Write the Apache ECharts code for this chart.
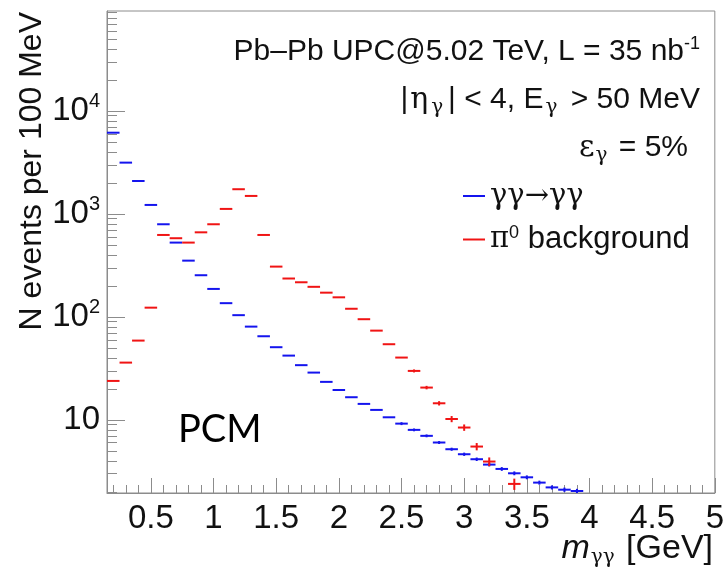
<!DOCTYPE html>
<html><head><meta charset="utf-8">
<script src="https://cdn.jsdelivr.net/npm/echarts@6/dist/echarts.min.js"></script>
<style>html,body{margin:0;padding:0;background:#fff}#c{width:727px;height:568px}</style>
</head><body><div id="c"></div>
<script>
// ---- data ----
const massBins = [0.2,0.3,0.4,0.5,0.6,0.7,0.8,0.9,1.0,1.1,1.2,1.3,1.4,1.5,1.6,1.7,1.8,1.9,2.0,2.1,2.2,2.3,2.4,2.5,2.6,2.7,2.8,2.9,3.0,3.1,3.2,3.3,3.4,3.5,3.6,3.7,3.8,3.9];
const signalCounts = [6150,3150,2090,1223,794,527,352,254,187,136,104,80.5,64.9,50.8,42.1,34.0,28.8,23.4,19.5,16.6,14.3,12.5,10.6,9.2,8.0,7.0,6.03,5.19,4.64,4.15,3.68,3.34,3.03,2.77,2.46,2.21,2.1,2.04];
const signalErrors = [0,0,0,0,0,0,0,0,0,0,0,0,0,0,0,0,0,0,0,0,0,0,0,0.3,0.25,0.22,0.2,0.18,0.17,0.16,0.15,0.14,0.13,0.12,0.11,0.1,0.1,0.1];
const backgroundCounts = [23.9,36,58.9,123,625,581,527,663,794,1119,1738,1496,625,308,236,217,196,172,155,120,95,73.6,54.3,40.3,29.9,20.6,14.5,10.2,8.43,5.51,3.94,null,2.39,null,null,null,null,null];
const backgroundErrors = [0,0,0,0,0,0,0,0,0,0,0,0,0,0,0,0,0,0,0,0,0,0,0,0,1.0,0.8,0.7,0.7,0.6,0.45,0.38,0,0.3,0,0,0,0,0];
const binWidth = 0.1;
const xMajorTicks = [0.5,1,1.5,2,2.5,3,3.5,4,4.5,5];
const xMinorTicks = [0.2,0.3,0.4,0.5,0.6,0.7,0.8,0.9,1.0,1.1,1.2,1.3,1.4,1.5,1.6,1.7,1.8,1.9,2.0,2.1,2.2,2.3,2.4,2.5,2.6,2.7,2.8,2.9,3.0,3.1,3.2,3.3,3.4,3.5,3.6,3.7,3.8,3.9,4.0,4.1,4.2,4.3,4.4,4.5,4.6,4.7,4.8,4.9];
const yMajorTicks = [10,100,1000,10000];
const yMinorTicks = [2,3,4,5,6,7,8,9,20,30,40,50,60,70,80,90,200,300,400,500,600,700,800,900,2000,3000,4000,5000,6000,7000,8000,9000,20000,30000,40000,50000,60000,70000,80000,90000];
const xRange = [0.15, 5];
const yRange = [1.95, 93500];

const SANS = '"Liberation Sans", Arial, Helvetica, sans-serif';
const GREEK = '"DejaVu Serif", "Liberation Serif", serif';
const FRAME = '#8c8c8c';

function build(counts, errs) {
  const out = [];
  for (let i = 0; i < massBins.length; i++) {
    if (counts[i] != null) out.push([massBins[i], counts[i], errs[i]]);
  }
  return out;
}

function binRenderer(color) {
  return function (params, api) {
    const x = api.value(0), y = api.value(1), e = api.value(2);
    const a = api.coord([x - binWidth / 2, y]);
    const b = api.coord([x + binWidth / 2, y]);
    const children = [{
      type: 'line',
      shape: { x1: a[0], y1: a[1], x2: b[0], y2: b[1] },
      style: { stroke: color, lineWidth: 2 }
    }];
    if (e > 0) {
      const t = api.coord([x, y + e]);
      const d = api.coord([x, Math.max(y - e, yRange[0])]);
      children.push({
        type: 'line',
        shape: { x1: t[0], y1: t[1], x2: d[0], y2: d[1] },
        style: { stroke: color, lineWidth: 2 }
      });
    }
    return { type: 'group', children: children };
  };
}

const chart = echarts.init(document.getElementById('c'), null, { renderer: 'canvas' });
chart.setOption({
  animation: false,
  backgroundColor: '#fff',
  grid: { left: 107, top: 11, right: 12, bottom: 75, show: true, borderColor: FRAME, borderWidth: 1, containLabel: false },
  xAxis: [{
    type: 'value', min: xRange[0], max: xRange[1], position: 'bottom',
    axisLine: { show: true, lineStyle: { color: FRAME, width: 1 } },
    axisTick: { show: true, inside: true, length: 15, customValues: xMajorTicks, lineStyle: { color: FRAME, width: 1 } },
    axisLabel: { show: true, customValues: xMajorTicks, margin: 9, color: '#111', fontSize: 33, fontFamily: SANS,
      formatter: function (v) { return String(v); } },
    splitLine: { show: false }
  }, {
    type: 'value', min: xRange[0], max: xRange[1], position: 'bottom',
    axisLine: { show: false },
    axisTick: { show: true, inside: true, length: 8, customValues: xMinorTicks, lineStyle: { color: FRAME, width: 1 } },
    axisLabel: { show: false },
    splitLine: { show: false }
  }],
  yAxis: [{
    type: 'log', logBase: 10, min: yRange[0], max: yRange[1], position: 'left',
    axisLine: { show: true, lineStyle: { color: FRAME, width: 1 } },
    axisTick: { show: true, inside: true, length: 18, customValues: yMajorTicks, lineStyle: { color: FRAME, width: 1 } },
    axisLabel: {
      show: true, customValues: yMajorTicks, margin: 7, color: '#111', fontSize: 33, fontFamily: SANS,
      formatter: function (v) {
        const p = Math.round(Math.log10(v));
        if (p === 1) return '{b|10}';
        return '{b|10}{s|' + p + '}';
      },
      rich: {
        b: { fontSize: 33, fontFamily: SANS, color: '#111', lineHeight: 38 },
        s: { fontSize: 20, fontFamily: SANS, color: '#111', lineHeight: 20, verticalAlign: 'top' }
      }
    },
    splitLine: { show: false }
  }, {
    type: 'log', logBase: 10, min: yRange[0], max: yRange[1], position: 'left',
    axisLine: { show: false },
    axisTick: { show: true, inside: true, length: 10, customValues: yMinorTicks, lineStyle: { color: FRAME, width: 1 } },
    axisLabel: { show: false },
    splitLine: { show: false }
  }],
  legend: {
    orient: 'vertical', left: 458, top: 176, itemWidth: 22, itemHeight: 2, itemGap: 13, icon: 'rect',
    data: ['γγ→γγ', 'π0 background'],
    textStyle: {
      fontSize: 30, fontFamily: SANS, color: '#111', lineHeight: 30,
      rich: {
        g: { fontSize: 29, fontFamily: GREEK, color: '#111', lineHeight: 30 },
        sup: { fontSize: 18, fontFamily: SANS, color: '#111', lineHeight: 18, verticalAlign: 'top' },
        t: { fontSize: 31, fontFamily: SANS, color: '#111', lineHeight: 30 }
      }
    },
    formatter: function (name) {
      if (name === 'γγ→γγ') return '{g|γγ→γγ}';
      return '{g|π}{sup|0}{t| background}';
    }
  },
  series: [{
    name: 'γγ→γγ', type: 'custom', xAxisIndex: 0, yAxisIndex: 0,
    itemStyle: { color: '#1414ee' }, clip: true,
    renderItem: binRenderer('#1414ee'),
    encode: { x: 0, y: 1 },
    data: build(signalCounts, signalErrors)
  }, {
    name: 'π0 background', type: 'custom', xAxisIndex: 0, yAxisIndex: 0,
    itemStyle: { color: '#f01414' }, clip: true,
    renderItem: binRenderer('#f01414'),
    encode: { x: 0, y: 1 },
    data: build(backgroundCounts, backgroundErrors)
  }],
  graphic: [{
    type: 'text', x: 700, y: 52,
    style: {
      text: 'Pb–Pb UPC@5.02 TeV, L = 35 nb{sup|-1}',
      font: '30px ' + SANS, fill: '#111', textAlign: 'right', textVerticalAlign: 'middle', lineHeight: 34,
      rich: { sup: { fontSize: 18, fontFamily: SANS, lineHeight: 18, verticalAlign: 'top' } }
    }
  }, {
    type: 'text', x: 700, y: 100,
    style: {
      text: '|{g|η}{sub|γ}| < 4, E{sub|γ} > 50 MeV',
      font: '30px ' + SANS, fill: '#111', textAlign: 'right', textVerticalAlign: 'middle', lineHeight: 36,
      rich: {
        g: { fontSize: 30, fontFamily: GREEK, lineHeight: 36, padding: [0, 1, 0, 2] },
        sub: { fontSize: 20, fontFamily: GREEK, lineHeight: 18, verticalAlign: 'bottom', padding: [0, 5, 0, 2] }
      }
    }
  }, {
    type: 'text', x: 688, y: 148,
    style: {
      text: '{g|ε}{sub|γ} = 5%',
      font: '30px ' + SANS, fill: '#111', textAlign: 'right', textVerticalAlign: 'middle', lineHeight: 36,
      rich: {
        g: { fontSize: 30, fontFamily: GREEK, lineHeight: 36 },
        sub: { fontSize: 20, fontFamily: GREEK, lineHeight: 18, verticalAlign: 'bottom', padding: [0, 3, 0, 1] }
      }
    }
  }, {
    type: 'text', x: 32, y: 12, rotation: Math.PI / 2,
    style: {
      text: 'N events per 100 MeV',
      font: '32px ' + SANS, fill: '#111', textAlign: 'right', textVerticalAlign: 'middle'
    }
  }, {
    type: 'text', x: 713, y: 549,
    style: {
      text: '{m|m}{sub|γγ} [GeV]',
      font: '34px ' + SANS, fill: '#111', textAlign: 'right', textVerticalAlign: 'middle', lineHeight: 38,
      rich: {
        m: { fontSize: 34, fontFamily: SANS, fontStyle: 'italic', lineHeight: 38 },
        sub: { fontSize: 20, fontFamily: GREEK, lineHeight: 18, verticalAlign: 'bottom', padding: [0, 2, 0, 1] }
      }
    }
  }, {
    type: 'text', x: 178, y: 430,
    style: {
      text: 'PCM',
      font: '38px Lato, "Open Sans", sans-serif', fill: '#000', textAlign: 'left', textVerticalAlign: 'middle'
    }
  }]
});
</script>
</body></html>
